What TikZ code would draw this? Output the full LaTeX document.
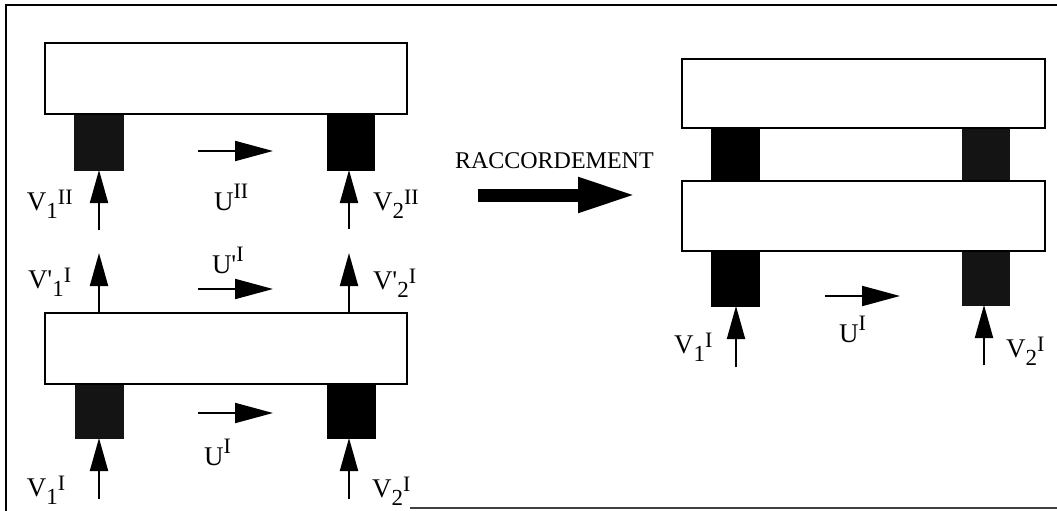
\documentclass[tikz,border=0pt]{standalone}
\usepackage{fontspec}
\setmainfont{Liberation Serif}
\usetikzlibrary{arrows.meta}
\newcommand\vlab[4]{\fontsize{27}{27}\selectfont #1#2\raisebox{-8pt}{\fontsize{23}{23}\selectfont #3}\raisebox{6pt}{\fontsize{22}{22}\selectfont #4}}
\newcommand\ulab[3]{\fontsize{27}{27}\selectfont #1#2\raisebox{12pt}{\fontsize{22}{22}\selectfont #3}}
\begin{document}
\begin{tikzpicture}[x=1pt,y=-1pt,
  beam/.style={draw=black,fill=white,line width=2pt,rectangle,inner sep=0pt,outer sep=0pt,anchor=north west},
  solidblk/.style={fill=black,draw=black,line width=0.5pt,rectangle,inner sep=0pt,outer sep=0pt,anchor=north west},
  stipblk/.style={fill=black!92,draw=black!92,line width=0.5pt,rectangle,inner sep=0pt,outer sep=0pt,anchor=north west},
  varrow/.style={line width=2pt,-{Triangle[length=33pt,width=18pt]}},
  harrow/.style={line width=2pt,-{Triangle[length=38pt,width=20pt]}},
  bigarrow/.style={line width=13pt,-{Triangle[length=59pt,width=32pt]}},
  lab/.style={inner sep=0pt,outer sep=0pt,anchor=base west}]
\useasboundingbox (0,0) rectangle (1057,511);
% frame
\draw[line width=2pt] (6,511) -- (6,5) -- (1057,5);
\draw[line width=1.3pt,black!75] (410,508) -- (1057,508);

% ===== left: top component (II) =====
\node[stipblk,minimum width=49pt,minimum height=56pt] (b2a) at (74,114) {};
\node[solidblk,minimum width=47pt,minimum height=56pt] (b2b) at (327,114) {};
\node[beam,minimum width=362pt,minimum height=71pt] (beamII) at (45,43) {};

% ===== left: bottom component (I) =====
\node[stipblk,minimum width=48pt,minimum height=54pt] (b1a) at (75,384) {};
\node[solidblk,minimum width=48pt,minimum height=54pt] (b1b) at (327,384) {};
\node[beam,minimum width=362pt,minimum height=71pt] (beamI) at (45,313) {};

% vertical arrows left
\coordinate (s2a) at (99,230);
\coordinate (s2b) at (349,229);
\draw[varrow] (s2a) -- (b2a.south -| s2a);
\draw[varrow] (s2b) -- (b2b.south -| s2b);
\coordinate (t1a) at (99,253);
\coordinate (t1b) at (349,253);
\draw[varrow] (beamI.north -| t1a) -- (t1a);
\draw[varrow] (beamI.north -| t1b) -- (t1b);
\coordinate (s1a) at (99,499);
\coordinate (s1b) at (349,499);
\draw[varrow] (s1a) -- (b1a.south -| s1a);
\draw[varrow] (s1b) -- (b1b.south -| s1b);

% horizontal arrows left
\coordinate (u2s) at (198,151); \coordinate (u2e) at (273,151);
\coordinate (u3s) at (198,289); \coordinate (u3e) at (273,289);
\coordinate (u1s) at (198,413); \coordinate (u1e) at (273,413);
\draw[harrow] (u2s) -- (u2e);
\draw[harrow] (u3s) -- (u3e);
\draw[harrow] (u1s) -- (u1e);

% labels left
\node[lab] (lV1II) at (27,210) {\vlab{V}{}{1}{II}};
\node[lab] (lUII) at (214,210) {\ulab{U}{}{II}};
\node[lab] (lV2II) at (373,210) {\vlab{V}{}{2}{II}};
\node[lab] (lVp1I) at (28,288) {\vlab{V}{\textquotesingle}{1}{I}};
\node[lab] (lUpI) at (212,273) {\ulab{U}{\textquotesingle}{I}};
\node[lab] (lVp2I) at (373,289) {\vlab{V}{\textquotesingle}{2}{I}};
\node[lab] (lUI) at (204,465) {\ulab{U}{}{I}};
\node[lab] (lV1I) at (27,496) {\vlab{V}{}{1}{I}};
\node[lab] (lV2I) at (372,497) {\vlab{V}{}{2}{I}};

% ===== middle: RACCORDEMENT =====
\node[lab] (racc) at (455,168) {\fontsize{24}{24}\selectfont RACCORDEMENT};
\coordinate (ra1) at (478,195);
\coordinate (ra2) at (637,195);
\draw[bigarrow] (ra1) -- (ra2);

% ===== right: assembled =====
\node[solidblk,minimum width=48pt,minimum height=53pt] (rb2a) at (711,128) {};
\node[stipblk,minimum width=47pt,minimum height=53pt] (rb2b) at (962,128) {};
\node[solidblk,minimum width=48pt,minimum height=55pt] (rb1a) at (711,251) {};
\node[stipblk,minimum width=47pt,minimum height=54pt] (rb1b) at (962,251) {};
\node[beam,minimum width=363pt,minimum height=69pt] (rbeamII) at (682,59) {};
\node[beam,minimum width=363pt,minimum height=70pt] (rbeamI) at (682,181) {};

\coordinate (rs1a) at (736,367);
\coordinate (rs1b) at (984,365);
\draw[varrow] (rs1a) -- (rb1a.south -| rs1a);
\draw[varrow] (rs1b) -- (rb1b.south -| rs1b);
\coordinate (ru1s) at (825,296); \coordinate (ru1e) at (900,296);
\draw[harrow] (ru1s) -- (ru1e);

\node[lab] (rlV1I) at (674,353) {\vlab{V}{}{1}{I}};
\node[lab] (rlUI) at (839,342) {\ulab{U}{}{I}};
\node[lab] (rlV2I) at (1006,357) {\vlab{V}{}{2}{I}};
\end{tikzpicture}
\end{document}
